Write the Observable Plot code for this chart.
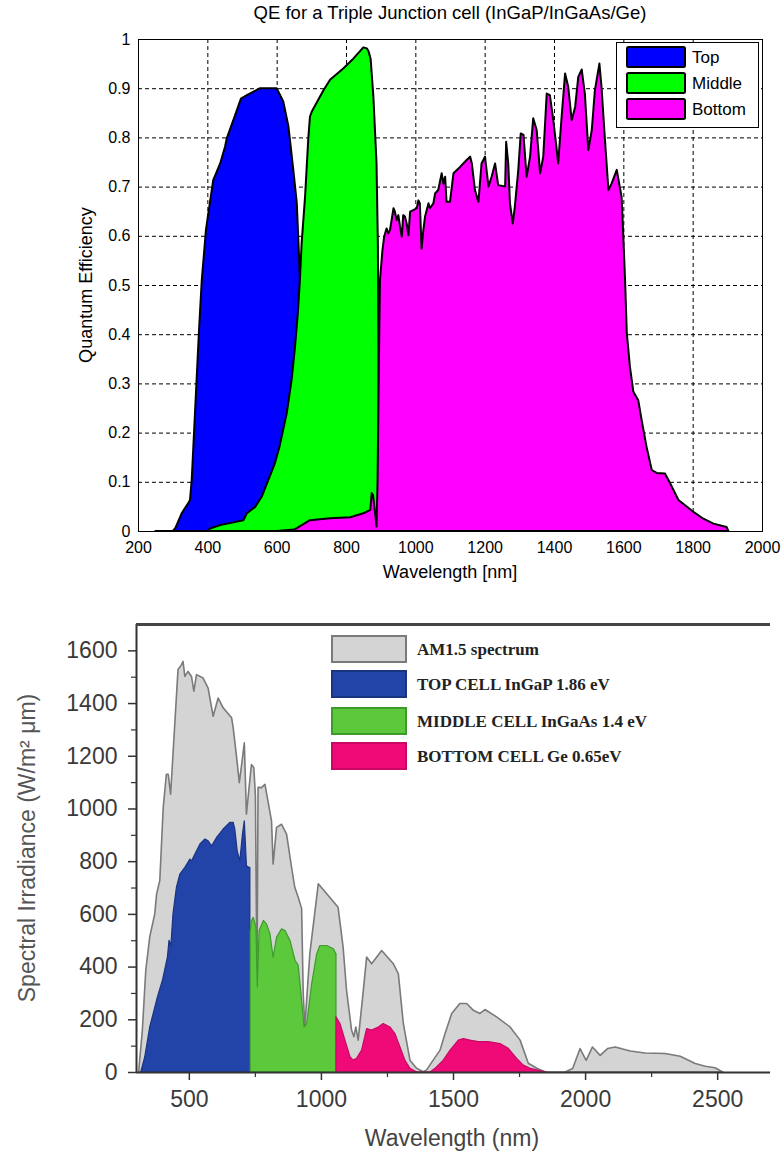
<!DOCTYPE html>
<html><head><meta charset="utf-8">
<script src="https://cdn.jsdelivr.net/npm/d3@7"></script>
<script src="https://cdn.jsdelivr.net/npm/@observablehq/plot@0.6"></script>
<style>
body{margin:0;background:#fff;}
#wrap{position:relative;width:784px;height:1153px;overflow:hidden;background:#fff}
svg{display:block}
</style></head><body><div id="wrap"></div>
<script>
// ---------- Chart 1: QE for a triple junction cell ----------
const qeTitle = "QE for a Triple Junction cell (InGaP/InGaAs/Ge)";
const qeXLabel = "Wavelength [nm]";
const qeYLabel = "Quantum Efficiency";
const qeXTicks = [200, 400, 600, 800, 1000, 1200, 1400, 1600, 1800, 2000];
const qeYTicks = [0, 0.1, 0.2, 0.3, 0.4, 0.5, 0.6, 0.7, 0.8, 0.9, 1];
const qeSeries = ["Top", "Middle", "Bottom"];
const qeColors = ["#0000ff", "#00ff00", "#ff00ff"];

// [wavelength nm, QE]
const qeTop = [[250,0],[300,0],[307,0.005],[326,0.036],[345,0.057],[350,0.063],[355,0.104],[362,0.205],[369,0.307],[376,0.408],[384,0.51],[396,0.612],[400,0.632],[417,0.713],[437,0.747],[451,0.781],[456,0.798],[475,0.835],[497,0.879],[514,0.886],[552,0.9],[600,0.9],[619,0.873],[634,0.822],[648,0.734],[658,0.667],[665,0.55],[672,0.4],[680,0.2],[690,0.05],[700,0]];
const qeMiddle = [[400,0],[408,0.005],[437,0.012],[465,0.016],[504,0.022],[514,0.036],[538,0.049],[557,0.07],[576,0.104],[595,0.138],[608,0.171],[629,0.239],[643,0.307],[653,0.375],[661,0.442],[667,0.51],[672,0.585],[682,0.68],[691,0.795],[696,0.842],[701,0.852],[735,0.896],[754,0.917],[792,0.94],[821,0.96],[850,0.983],[860,0.981],[865,0.975],[871,0.96],[879,0.883],[888,0.748],[892,0.58],[894,0.3],[896,0]];
const qeBottom = [[600,0],[650,0.003],[658,0.006],[696,0.022],[754,0.026],[812,0.028],[850,0.036],[870,0.043],[874,0.077],[878,0.073],[884,0.036],[888,0.009],[891,0.1],[895,0.35],[898,0.51],[905,0.57],[910,0.598],[917,0.615],[922,0.605],[927,0.612],[937,0.656],[941,0.649],[946,0.632],[951,0.642],[956,0.618],[961,0.598],[965,0.642],[970,0.639],[975,0.625],[980,0.601],[985,0.649],[994,0.652],[1004,0.656],[1009,0.672],[1013,0.666],[1018,0.574],[1023,0.611],[1028,0.639],[1038,0.666],[1042,0.656],[1052,0.666],[1057,0.686],[1066,0.693],[1076,0.727],[1081,0.706],[1086,0.72],[1090,0.669],[1100,0.669],[1110,0.727],[1129,0.74],[1148,0.754],[1158,0.761],[1163,0.747],[1172,0.693],[1182,0.669],[1191,0.747],[1201,0.761],[1211,0.7],[1220,0.72],[1230,0.747],[1239,0.703],[1259,0.7],[1262,0.791],[1268,0.747],[1273,0.666],[1281,0.625],[1287,0.659],[1297,0.734],[1304,0.808],[1312,0.805],[1321,0.72],[1331,0.761],[1340,0.839],[1350,0.815],[1360,0.727],[1369,0.761],[1379,0.889],[1388,0.886],[1398,0.835],[1408,0.774],[1412,0.747],[1422,0.842],[1432,0.93],[1441,0.903],[1451,0.835],[1461,0.862],[1470,0.923],[1480,0.938],[1489,0.889],[1499,0.774],[1509,0.815],[1518,0.896],[1531,0.95],[1537,0.903],[1547,0.795],[1557,0.693],[1566,0.706],[1581,0.734],[1595,0.679],[1600,0.598],[1605,0.51],[1610,0.402],[1619,0.334],[1629,0.283],[1643,0.266],[1653,0.225],[1667,0.171],[1682,0.124],[1696,0.118],[1720,0.117],[1735,0.097],[1759,0.063],[1802,0.039],[1831,0.025],[1860,0.015],[1898,0.008],[1903,0]];

// ---------- Chart 2: AM1.5 spectrum split among the cells ----------
const irrXLabel = "Wavelength (nm)";
const irrYLabel = "Spectral Irradiance (W/m² μm)";
const irrXTicks = [500, 1000, 1500, 2000, 2500];
const irrXMinor = [750, 1250, 1750, 2250];
const irrYTicks = [0, 200, 400, 600, 800, 1000, 1200, 1400, 1600];
const irrYMinor = [100, 300, 500, 700, 900, 1100, 1300, 1500];
const irrSeries = ["AM1.5 spectrum", "TOP CELL InGaP 1.86 eV", "MIDDLE CELL InGaAs 1.4 eV", "BOTTOM CELL Ge 0.65eV"];
const irrColors = ["#d4d4d4", "#2244a8", "#5cc83c", "#f00a78"];
const irrStrokes = ["#7a7a7a", "#1a3480", "#3f9a2c", "#c80864"];

// [wavelength nm, W/m2 um]
const am15 = [[310,0],[324,158],[337,386],[352,513],[371,600],[378,676],[390,726],[403,1003],[415,1130],[422,1130],[431,1054],[440,1205],[459,1527],[472,1545],[478,1558],[485,1501],[497,1520],[510,1501],[519,1445],[529,1508],[554,1495],[573,1457],[592,1350],[611,1419],[630,1382],[662,1344],[668,1306],[681,1193],[691,1098],[700,1167],[710,1249],[718,978],[728,1079],[737,1167],[746,1155],[752,1050],[758,330],[762,1080],[775,1079],[788,1092],[813,953],[819,789],[832,928],[851,940],[870,903],[889,776],[901,701],[914,663],[927,620],[933,300],[939,171],[958,449],[990,714],[1022,676],[1065,625],[1084,474],[1097,310],[1116,159],[1125,134],[1132,171],[1141,121],[1158,285],[1173,436],[1192,411],[1230,461],[1274,411],[1293,373],[1312,184],[1337,45],[1362,14],[1388,1],[1400,8],[1425,45],[1451,83],[1470,146],[1495,222],[1526,260],[1552,260],[1577,234],[1602,222],[1621,237],[1665,209],[1716,171],[1754,121],[1785,33],[1817,14],[1848,1],[1924,0],[1953,13],[1981,89],[2004,44],[2028,95],[2057,63],[2085,89],[2114,95],[2171,80],[2227,72],[2303,70],[2360,60],[2417,32],[2455,22],[2492,16],[2521,0]];
const topCell = [[318,0],[333,57],[352,171],[381,285],[400,348],[419,437],[425,500],[432,480],[440,600],[453,701],[466,751],[485,777],[504,808],[510,801],[523,827],[542,865],[561,884],[573,877],[586,858],[605,890],[630,922],[655,947],[668,947],[674,922],[683,840],[693,801],[703,903],[710,953],[718,783],[727,777],[731,777]];
const midCell = [[732,531],[737,575],[744,587],[754,549],[759,323],[766,537],[782,575],[794,562],[807,525],[819,436],[832,512],[851,543],[864,537],[883,499],[902,424],[914,405],[927,272],[936,171],[946,184],[965,335],[984,449],[996,480],[1022,480],[1047,468],[1057,449]];
const botCell = [[1057,209],[1072,184],[1091,121],[1110,58],[1122,45],[1135,52],[1154,83],[1173,165],[1192,159],[1217,171],[1236,184],[1261,171],[1280,146],[1299,96],[1318,45],[1337,14],[1356,4],[1364,0],[1413,0],[1432,14],[1463,45],[1489,83],[1520,121],[1539,127],[1564,121],[1596,115],[1634,115],[1678,108],[1709,90],[1741,52],[1766,26],[1792,14],[1830,5],[1855,0]];

const wrap = document.getElementById("wrap");
const X = d => d[0], Y = d => d[1];

// ---------- draw chart 1 ----------
const qeData = [qeTop, qeMiddle, qeBottom];
const chart1 = Plot.plot({
  width: 784, height: 590,
  marginLeft: 138, marginRight: 22, marginTop: 39, marginBottom: 59,
  style: {fontFamily: "'Liberation Sans', Arial, sans-serif", fontSize: "16px", color: "#000", background: "#fff", overflow: "visible"},
  x: {domain: [200, 2000], label: null},
  y: {domain: [0, 1], label: null},
  marks: [
    Plot.gridX(qeXTicks, {stroke: "#000", strokeOpacity: 1, strokeDasharray: "4,3", strokeWidth: 1}),
    Plot.gridY(qeYTicks, {stroke: "#000", strokeOpacity: 1, strokeDasharray: "4,3", strokeWidth: 1}),
    ...qeData.map((d, i) => Plot.areaY(d, {x: X, y: Y, fill: qeColors[i], fillOpacity: 1, stroke: "#000", strokeWidth: 2, strokeLinejoin: "round"})),
    Plot.frame({stroke: "#000", strokeWidth: 1}),
    Plot.axisX(qeXTicks, {tickSize: 0, tickPadding: 10, tickFormat: "d", fontSize: 16}),
    Plot.axisY(qeYTicks, {tickSize: 0, tickPadding: 8, tickFormat: d => String(d), fontSize: 16})
  ]
});
wrap.appendChild(chart1);
{
  const s = d3.select(chart1);
  const F = "'Liberation Sans', Arial, sans-serif";
  s.append("text").attr("x", 450).attr("y", 13).attr("dy", "0.35em").attr("text-anchor", "middle")
    .attr("font-family", F).attr("font-size", 18.5).attr("fill", "#000").text(qeTitle);
  s.append("text").attr("x", 450).attr("y", 572).attr("dy", "0.35em").attr("text-anchor", "middle")
    .attr("font-family", F).attr("font-size", 18).attr("fill", "#000").text(qeXLabel);
  s.append("text").attr("transform", "translate(86,285) rotate(-90)").attr("dy", "0.35em").attr("text-anchor", "middle")
    .attr("font-family", F).attr("font-size", 18).attr("fill", "#000").text(qeYLabel);
  const lg = s.append("g");
  lg.append("rect").attr("x", 616.5).attr("y", 42.5).attr("width", 142).attr("height", 85)
    .attr("fill", "#fff").attr("stroke", "#000").attr("stroke-width", 1);
  qeSeries.forEach((name, i) => {
    const y0 = 47 + i * 26;
    lg.append("rect").attr("x", 627).attr("y", y0).attr("width", 58).attr("height", 20)
      .attr("fill", qeColors[i]).attr("stroke", "#000").attr("stroke-width", 2).attr("rx", 1.5);
    lg.append("text").attr("x", 692).attr("y", y0 + 10).attr("dy", "0.35em").attr("text-anchor", "start")
      .attr("font-family", F).attr("font-size", 17).attr("fill", "#000").text(name);
  });
}

// ---------- draw chart 2 ----------
const irrData = [am15, topCell, midCell, botCell];
const chart2 = Plot.plot({
  width: 784, height: 563,
  marginLeft: 136, marginRight: 14, marginTop: 34, marginBottom: 81,
  style: {fontFamily: "'Liberation Sans', Arial, Helvetica, sans-serif", fontSize: "23px", color: "#3a3a3a", background: "#fff", overflow: "visible"},
  x: {domain: [300, 2700], label: null},
  y: {domain: [0, 1700], label: null},
  marks: [
    ...irrData.map((d, i) => Plot.areaY(d, {x: X, y: Y, fill: irrColors[i], fillOpacity: 1, stroke: irrStrokes[i], strokeWidth: i === 0 ? 1.6 : 1.2, strokeLinejoin: "round"})),
    Plot.ruleY([0], {stroke: "#333", strokeWidth: 2}),
    Plot.ruleX([300], {stroke: "#333", strokeWidth: 2}),
    Plot.ruleY([1700], {stroke: "#444", strokeWidth: 3}),
    Plot.axisX(irrXTicks, {tickSize: 8, tickPadding: 10, tickFormat: "d", fontSize: 23, stroke: "#333", strokeWidth: 1.5}),
    Plot.axisX(irrXMinor, {tickSize: 5, tickFormat: () => "", stroke: "#333", strokeWidth: 1.2}),
    Plot.axisY(irrYTicks, {tickSize: 8, tickPadding: 11, tickFormat: "d", fontSize: 23, stroke: "#333", strokeWidth: 1.5}),
    Plot.axisY(irrYMinor, {tickSize: 5, tickFormat: () => "", stroke: "#333", strokeWidth: 1.2})
  ]
});
wrap.appendChild(chart2);
{
  const s = d3.select(chart2);
  const F = "'Liberation Sans', Arial, Helvetica, sans-serif";
  s.append("text").attr("x", 452).attr("y", 548).attr("dy", "0.35em").attr("text-anchor", "middle")
    .attr("font-family", F).attr("font-size", 23).attr("fill", "#444").text(irrXLabel);
  s.append("text").attr("transform", "translate(27,258) rotate(-90)").attr("dy", "0.35em").attr("text-anchor", "middle")
    .attr("font-family", F).attr("font-size", 23).attr("fill", "#555").text(irrYLabel);
  const lg = s.append("g");
  const ys = [46, 81, 118, 153];
  irrSeries.forEach((name, i) => {
    lg.append("rect").attr("x", 332).attr("y", ys[i]).attr("width", 74).attr("height", 26)
      .attr("fill", irrColors[i]).attr("stroke", irrStrokes[i]).attr("stroke-width", 2);
    lg.append("text").attr("x", 417).attr("y", ys[i] + 13).attr("dy", "0.35em").attr("text-anchor", "start")
      .attr("font-family", "'Liberation Serif', 'DejaVu Serif', serif").attr("font-weight", "bold")
      .attr("font-size", 17).attr("fill", "#222").text(name);
  });
}
</script></body></html>
